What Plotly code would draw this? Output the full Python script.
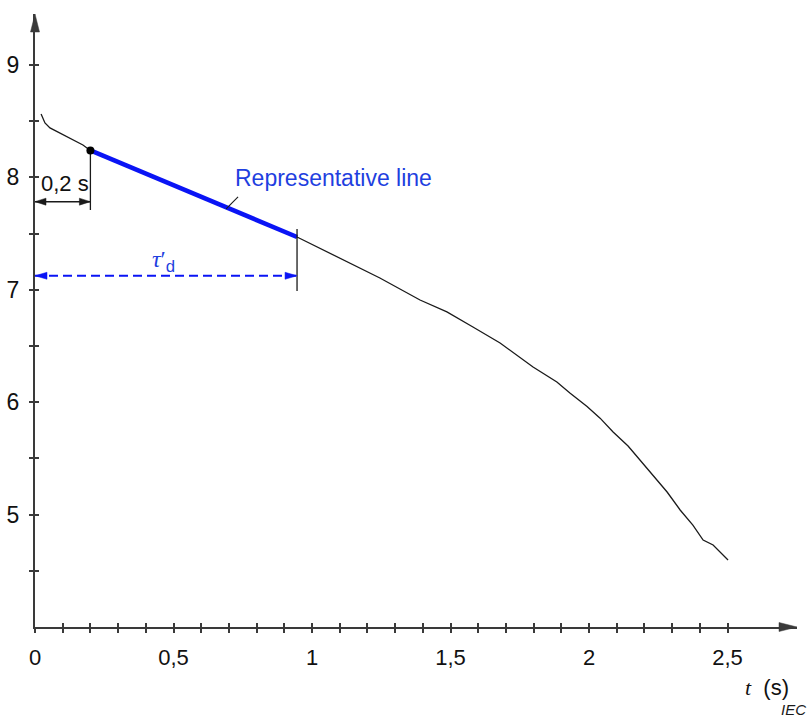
import plotly.graph_objects as go

# ---------------- data ----------------
t_curve = [0.022, 0.036, 0.054, 0.090, 0.137, 0.173, 0.200, 0.415, 0.596, 0.776,
           0.946, 1.101, 1.245, 1.390, 1.487, 1.581, 1.679, 1.798, 1.884, 1.931,
           1.993, 2.040, 2.087, 2.141, 2.184, 2.231, 2.282, 2.329, 2.375, 2.412,
           2.448, 2.502]
v_curve = [8.564, 8.484, 8.440, 8.395, 8.333, 8.288, 8.240, 8.021, 7.835, 7.648,
           7.470, 7.283, 7.105, 6.909, 6.803, 6.669, 6.527, 6.313, 6.180, 6.081,
           5.961, 5.858, 5.735, 5.610, 5.486, 5.352, 5.201, 5.041, 4.907, 4.774,
           4.730, 4.596]

t_rep = [0.200, 0.946]          # representative line
v_rep = [8.240, 7.470]

t_start = 0.2                   # 0,2 s marker
v_start_mark = [7.71, 8.244]
t_tau = 0.946                   # tau'_d marker
v_tau_mark = [6.989, 7.541]
v_arrow_02 = 7.784
v_arrow_tau = 7.125

t_leader = [0.690, 0.733]
v_leader = [7.719, 7.826]

x_tick_vals = [0.0, 0.1, 0.2, 0.3, 0.4, 0.5, 0.6, 0.7, 0.8, 0.9, 1.0, 1.1, 1.2,
               1.3, 1.4, 1.5, 1.6, 1.7, 1.8, 1.9, 2.0, 2.1, 2.2, 2.3, 2.4, 2.5]
x_tick_text = ["0", "", "", "", "", "0,5", "", "", "", "", "1", "", "", "", "",
               "1,5", "", "", "", "", "2", "", "", "", "", "2,5"]
y_tick_vals = [4.5, 5, 5.5, 6, 6.5, 7, 7.5, 8, 8.5, 9]
y_tick_text = ["", "5", "", "6", "", "7", "", "8", "", "9"]

# ---------------- geometry ----------------
W, H = 810, 720
ML, MR, MT, MB = 35, 13, 14, 93
PW, PH = W - ML - MR, H - MT - MB
PX_PER_T, PX_PER_V = 277.0, 112.4
XMIN, YMIN = 0.0, 4.0
XMAX = XMIN + PW / PX_PER_T
YMAX = YMIN + PH / PX_PER_V

AX = "#3a3a3a"
BLUE_TXT = "#1f3fe0"
BLUE = "#0a14f5"
FONT = "Liberation Sans, Arial, sans-serif"


def to_paper(t, v):
    return (t - XMIN) / (XMAX - XMIN), (v - YMIN) / (YMAX - YMIN)


def arrowhead(t, v, direction, length, half, color):
    px, py = to_paper(t, v)
    dx, dy = direction
    bx, by = px - dx * length / PW, py - dy * length / PH
    nx, ny = -dy, dx
    p1 = (bx + nx * half / PW, by + ny * half / PH)
    p2 = (bx - nx * half / PW, by - ny * half / PH)
    path = f"M {px},{py} L {p1[0]},{p1[1]} L {p2[0]},{p2[1]} Z"
    return dict(type="path", xref="paper", yref="paper", path=path,
                fillcolor=color, line=dict(color=color, width=0.5), layer="above")


fig = go.Figure()

# curve
fig.add_trace(go.Scatter(x=t_curve, y=v_curve, mode="lines",
                         line=dict(color="#1a1a1a", width=1.3), hoverinfo="skip"))
# representative line
fig.add_trace(go.Scatter(x=t_rep, y=v_rep, mode="lines",
                         line=dict(color=BLUE, width=4.5), hoverinfo="skip"))
# vertical markers
fig.add_trace(go.Scatter(x=[t_start, t_start], y=v_start_mark, mode="lines",
                         line=dict(color="#1a1a1a", width=1.3), hoverinfo="skip"))
fig.add_trace(go.Scatter(x=[t_tau, t_tau], y=v_tau_mark, mode="lines",
                         line=dict(color="#1a1a1a", width=1.3), hoverinfo="skip"))
# dimension lines
fig.add_trace(go.Scatter(x=[XMIN, t_start], y=[v_arrow_02, v_arrow_02], mode="lines",
                         line=dict(color="#1a1a1a", width=1.5), hoverinfo="skip"))
fig.add_trace(go.Scatter(x=[XMIN, t_tau], y=[v_arrow_tau, v_arrow_tau], mode="lines",
                         line=dict(color=BLUE, width=1.8, dash="9px,5px"), hoverinfo="skip"))
# leader line
fig.add_trace(go.Scatter(x=t_leader, y=v_leader, mode="lines",
                         line=dict(color="#1a1a1a", width=1.1), hoverinfo="skip"))
# start dot
fig.add_trace(go.Scatter(x=[t_rep[0]], y=[v_rep[0]], mode="markers",
                         marker=dict(color="black", size=8), hoverinfo="skip"))
# dummy trace for overlay axes (inside ticks)
fig.add_trace(go.Scatter(x=[None], y=[None], xaxis="x2", yaxis="y2",
                         mode="markers", hoverinfo="skip"))

shapes = [
    arrowhead(XMAX, YMIN, (1, 0), 18, 4.5, AX),
    arrowhead(XMIN, YMAX, (0, 1), 18, 4.5, AX),
    arrowhead(XMIN, v_arrow_02, (-1, 0), 11, 3.5, "#1a1a1a"),
    arrowhead(t_start, v_arrow_02, (1, 0), 11, 3.5, "#1a1a1a"),
    arrowhead(XMIN, v_arrow_tau, (-1, 0), 12, 3.5, BLUE),
    arrowhead(t_tau, v_arrow_tau, (1, 0), 12, 3.5, BLUE),
]

unit_px, unit_py = to_paper(2.643, 3.466)
iec_px, iec_py = to_paper(2.740, 3.262)

annotations = [
    dict(x=1.076, y=7.995, text="Representative line", showarrow=False,
         font=dict(family=FONT, size=23, color=BLUE_TXT)),
    dict(x=0.107, y=7.95, text="0,2 s", showarrow=False,
         font=dict(family=FONT, size=22, color="#111")),
    dict(x=0.465, y=7.255,
         text='<span style="font-family:Liberation Serif"><i>τ</i>′</span><sub>d</sub>',
         showarrow=False, font=dict(family=FONT, size=24, color=BLUE_TXT)),
    dict(xref="paper", yref="paper", x=unit_px, y=unit_py,
         xanchor="center", yanchor="middle",
         text='<span style="font-family:Liberation Serif"><i>t</i></span>\u00a0\u00a0(s)',
         showarrow=False, font=dict(family=FONT, size=22, color="#111")),
    dict(xref="paper", yref="paper", x=iec_px, y=iec_py,
         xanchor="center", yanchor="middle", text="<i>IEC</i>",
         showarrow=False, font=dict(family=FONT, size=15, color="#1a1a1a")),
]

common_x = dict(range=[XMIN, XMAX], showgrid=False, zeroline=False,
                tickmode="array", tickvals=x_tick_vals, ticklen=4, tickwidth=1.5,
                tickcolor=AX, automargin=False, fixedrange=True)
common_y = dict(range=[YMIN, YMAX], showgrid=False, zeroline=False,
                tickmode="array", tickvals=y_tick_vals, ticklen=4, tickwidth=1.5,
                tickcolor=AX, automargin=False, fixedrange=True)

fig.update_layout(
    width=W, height=H,
    margin=dict(l=ML, r=MR, t=MT, b=MB, pad=0),
    paper_bgcolor="white", plot_bgcolor="white",
    showlegend=False,
    xaxis=dict(**common_x, ticktext=x_tick_text, ticks="outside",
               showline=True, linecolor=AX, linewidth=2,
               tickfont=dict(family=FONT, size=22, color="#111"),
               ticklabelstandoff=6),
    yaxis=dict(**common_y, ticktext=y_tick_text, ticks="outside",
               showline=True, linecolor=AX, linewidth=2,
               tickfont=dict(family=FONT, size=23, color="#111"),
               ticklabelstandoff=5),
    xaxis2=dict(**common_x, overlaying="x", anchor="y2", side="bottom",
                ticks="inside", showticklabels=False, showline=False),
    yaxis2=dict(**common_y, overlaying="y", anchor="x2", side="left",
                ticks="inside", showticklabels=False, showline=False),
    shapes=shapes,
    annotations=annotations,
)

fig.write_html("out.html")
